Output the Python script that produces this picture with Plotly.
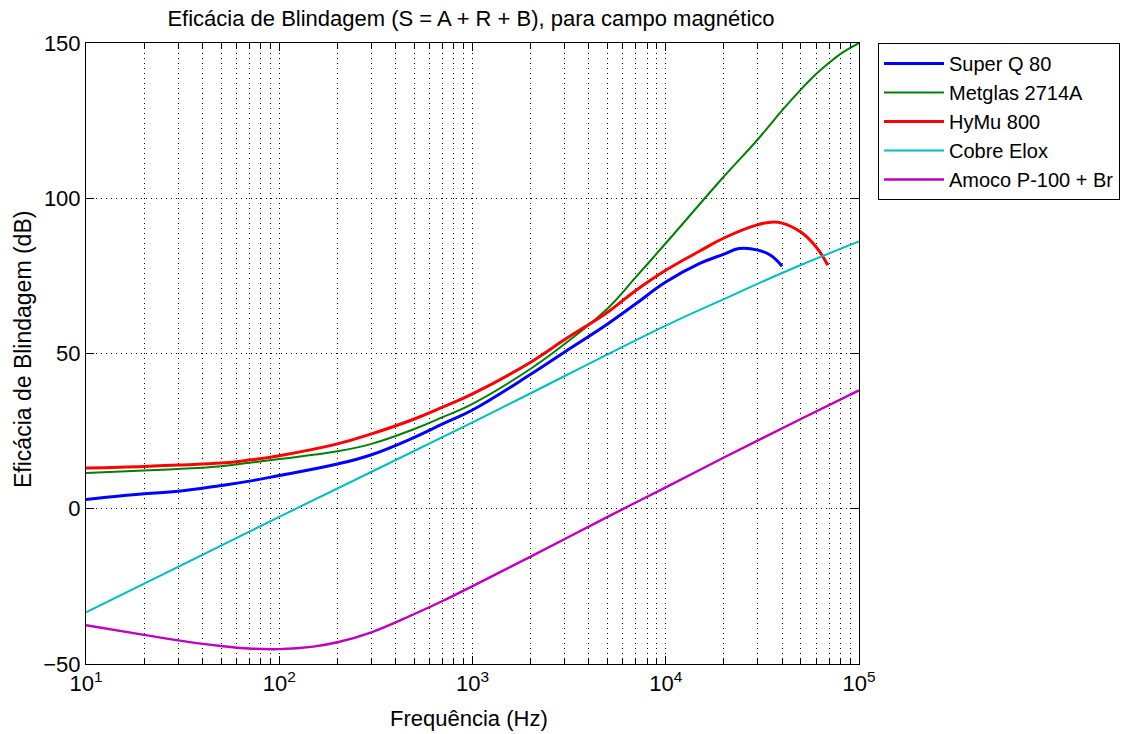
import plotly.graph_objects as go

# Shielding effectiveness S = A + R + B (dB) versus frequency (Hz), magnetic field

freq_superq = [10, 20, 30, 50, 70, 100, 200, 300, 500, 700, 1000, 2000, 3000, 5000, 7000,
               10000, 15000, 20000, 24000, 30000, 35000, 40000]
db_superq = [3.0, 4.8, 5.6, 7.5, 8.9, 10.7, 14.4, 17.4, 23.0, 27.3, 31.8, 43.3, 50.5, 59.5, 66.0,
             73.0, 79.0, 82.0, 83.8, 83.3, 81.6, 78.1]

freq_metglas = [10, 20, 30, 50, 70, 100, 200, 300, 500, 700, 1000, 2000, 3000, 5000, 7000,
                10000, 20000, 30000, 40000, 50000, 60000, 70000, 80000, 90000, 100000]
db_metglas = [11.5, 12.3, 12.8, 13.7, 14.8, 16.0, 18.5, 20.9, 25.7, 29.5, 33.8, 45.1, 53.1, 64.5, 74.6,
              85.5, 107.0, 119.0, 128.3, 135.0, 140.0, 143.6, 146.4, 148.4, 150.0]

freq_hymu = [10, 20, 30, 50, 70, 100, 200, 300, 500, 700, 1000, 2000, 3000, 5000, 7000,
             10000, 15000, 20000, 30000, 35000, 40000, 50000, 60000, 69000]
db_hymu = [13.1, 13.6, 14.1, 14.7, 15.7, 17.1, 20.9, 24.1, 28.9, 32.7, 37.0, 47.2, 54.5, 63.3, 70.3,
           76.8, 83.0, 87.2, 91.5, 92.3, 92.0, 89.1, 84.3, 78.4]

freq_cobre = [10, 100, 1000, 10000, 20000, 30000, 50000, 100000]
db_cobre = [-33.4, -2.6, 27.8, 59.0, 67.5, 72.5, 78.5, 86.1]

freq_amoco = [10, 20, 30, 50, 70, 100, 150, 200, 300, 500, 700, 1000, 2000, 5000,
              10000, 20000, 50000, 100000]
db_amoco = [-37.5, -40.6, -42.4, -44.2, -45.0, -45.2, -44.4, -43.0, -39.8, -33.9, -29.7, -24.9,
            -15.4, -2.6, 6.9, 16.5, 28.9, 38.1]

series = [
    ("Super Q 80", freq_superq, db_superq, "#0000FF", 3),
    ("Metglas 2714A", freq_metglas, db_metglas, "#008000", 2),
    ("HyMu 800", freq_hymu, db_hymu, "#FF0000", 3),
    ("Cobre Elox", freq_cobre, db_cobre, "#00BFBF", 2),
    ("Amoco P-100 + Br", freq_amoco, db_amoco, "#BF00BF", 2.4),
]

decades = [10, 100, 1000, 10000, 100000]
decade_labels = ["10<sup>1</sup>", "10<sup>2</sup>", "10<sup>3</sup>", "10<sup>4</sup>", "10<sup>5</sup>"]
minor_x = [m * d for d in decades[:-1] for m in range(2, 10)]
y_ticks = [-50, 0, 50, 100, 150]

FONT = "Liberation Sans, Arial, sans-serif"
FS = 22

fig = go.Figure()
for name, fx, fy, color, width in series:
    fig.add_trace(go.Scatter(
        x=fx, y=fy, name=name, mode="lines",
        line=dict(color=color, width=width, shape="spline", smoothing=1.2),
    ))

grid_dash = "1px,4px"
fig.update_xaxes(
    type="log", range=[1, 5],
    tickvals=decades, ticktext=decade_labels,
    ticks="inside", ticklen=8, tickcolor="black",
    showline=True, linecolor="black", linewidth=1, mirror="allticks",
    showgrid=True, gridcolor="black", gridwidth=1, griddash=grid_dash,
    zeroline=False,
    tickfont=dict(family=FONT, size=FS, color="black"),
    minor=dict(tickvals=minor_x, ticks="inside", ticklen=5, tickcolor="black",
               showgrid=True, gridcolor="black", gridwidth=1, griddash=grid_dash),
)
fig.update_yaxes(
    range=[-50, 150], tickvals=y_ticks,
    ticks="inside", ticklen=8, tickcolor="black",
    showline=True, linecolor="black", linewidth=1, mirror="allticks",
    showgrid=True, gridcolor="black", gridwidth=1, griddash=grid_dash,
    zeroline=False,
    tickfont=dict(family=FONT, size=FS, color="black"),
)

fig.update_layout(
    width=1147, height=734,
    margin=dict(l=86, r=288, t=43, b=70),
    paper_bgcolor="white", plot_bgcolor="white",
    font=dict(family=FONT, size=FS, color="black"),
    title=dict(text="Eficácia de Blindagem (S = A + R + B), para campo magnético",
               x=(471 / 1147), xanchor="center", y=1 - 18 / 734, yanchor="middle",
               font=dict(family=FONT, size=FS, color="black")),
    legend=dict(x=(878 - 86) / 773, xanchor="left", y=1, yanchor="top",
                bordercolor="black", borderwidth=1, bgcolor="white",
                font=dict(family=FONT, size=20, color="black"),
                tracegroupgap=0, itemwidth=60),
    showlegend=True,
)

fig.add_annotation(text="Frequência (Hz)", xref="paper", yref="paper",
                   x=(469 - 86) / 773, y=(664 - 718) / 621, xanchor="center", yanchor="middle",
                   showarrow=False, font=dict(family=FONT, size=FS, color="black"))
fig.add_annotation(text="Eficácia de Blindagem (dB)", xref="paper", yref="paper",
                   x=(23 - 86) / 773, y=(664 - 350) / 621, xanchor="center", yanchor="middle",
                   textangle=-90, showarrow=False, font=dict(family=FONT, size=23, color="black"))

fig.write_html("out.html")
